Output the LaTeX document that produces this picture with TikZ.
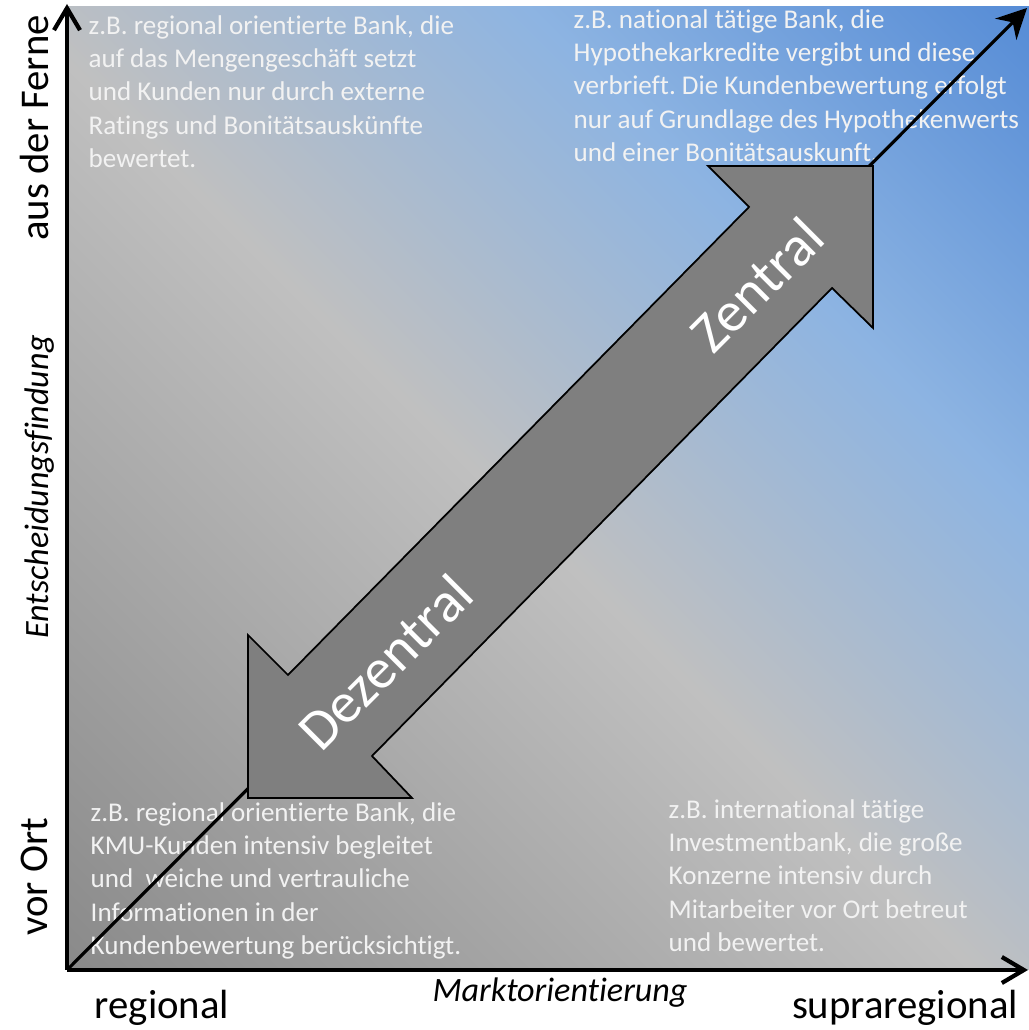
\documentclass[tikz,border=0pt]{standalone}
\usepackage{fontspec}
\setmainfont{Carlito}[Ligatures=NoCommon]
\usepackage{tikz}
\usetikzlibrary{arrows.meta}
\frenchspacing

\definecolor{bgdark}{RGB}{138,138,138}
\definecolor{bglight}{RGB}{192,192,192}
\definecolor{bgmid}{RGB}{141,180,226}
\definecolor{bgblue}{RGB}{86,140,214}
\definecolor{arrowgray}{RGB}{127,127,127}
\definecolor{quadwhite}{RGB}{242,242,242}

\pgfdeclarehorizontalshading{bgshade}{100bp}{color(0bp)=(bgdark); color(14.6bp)=(bgdark); color(48bp)=(bglight); color(67bp)=(bgmid); color(85.4bp)=(bgblue); color(100bp)=(bgblue)}

\begin{document}
\begin{tikzpicture}[
  quadtext/.style={text=quadwhite,font=\fontsize{7.7}{9.45}\selectfont,align=left,inner sep=0pt,anchor=north west},
  axlabel/.style={font=\fontsize{11.6}{13}\selectfont,inner sep=0pt},
  axtitle/.style={font=\fontsize{9.7}{11}\selectfont\itshape,inner sep=0pt},
  axis/.style={line width=1.2pt,-{Straight Barb[length=2.2mm,width=2.6mm]}},
  bigarrow/.style={fill=arrowgray,draw=black,line width=.5pt,line join=miter},
  arrowtext/.style={text=white,font=\fontsize{16.2}{18}\selectfont,inner sep=0pt,rotate=45}]
\useasboundingbox (0,0) rectangle (10.29,10.30);
\coordinate (O) at (0.67,0.60);
\coordinate (ytop) at (0.67,10.26);
\coordinate (xend) at (10.28,0.60);
\coordinate (dend) at (10.27,10.22);
\fill[shading=bgshade,shading angle=45] (0.67,0.60) rectangle (10.29,10.23);
% quadrants
\node[quadtext] (tl) at (0.88,10.15) {z.B. regional orientierte Bank, die\\auf das Mengengeschäft setzt\\und Kunden nur durch externe\\Ratings und Bonitätsauskünfte\\bewertet.};
\node[quadtext] (tr) at (5.73,10.21) {z.B. national tätige Bank, die\\Hypothekarkredite vergibt und diese\\verbrieft. Die Kundenbewertung erfolgt\\nur auf Grundlage des Hypothekenwerts\\und einer Bonitätsauskunft.};
\node[quadtext] (bl) at (0.90,2.28) {z.B. regional orientierte Bank, die\\KMU-Kunden intensiv begleitet\\und~ weiche und vertrauliche\\Informationen in der\\Kundenbewertung berücksichtigt.};
\node[quadtext] (br) at (6.68,2.31) {z.B. international tätige\\Investmentbank, die große\\Konzerne intensiv durch\\Mitarbeiter vor Ort betreut\\und bewertet.};
\draw[line width=.9pt,-{Stealth[length=3mm,width=3mm]}] (O) -- (dend);
% double arrow
\draw[bigarrow] (8.73,8.64) -- (7.08,8.64) -- (7.49,8.23) -- (2.88,3.55) -- (2.48,3.95) -- (2.48,2.32) -- (4.12,2.32) -- (3.72,2.74) -- (8.32,7.42) -- (8.73,7.02) -- cycle;
\node[arrowtext] (zentral) at (7.57,7.45) {Zentral};
\node[arrowtext] (dezentral) at (3.85,3.68) {Dezentral};
% axes
\draw[axis] (O) -- (ytop);
\draw[axis] (O) -- (xend);
\node[axlabel,rotate=90] (ferne) at (0.34,9.02) {aus der Ferne};
\node[axtitle,rotate=90] (entsch) at (0.40,5.43) {Entscheidungsfindung};
\node[axlabel,rotate=90] (vorort) at (0.34,1.53) {vor Ort};
\node[axlabel] (regional) at (1.62,0.22) {regional};
\node[axtitle] (markt) at (5.60,0.37) {Marktorientierung};
\node[axlabel] (supra) at (9.05,0.22) {supraregional};
\end{tikzpicture}
\end{document}
